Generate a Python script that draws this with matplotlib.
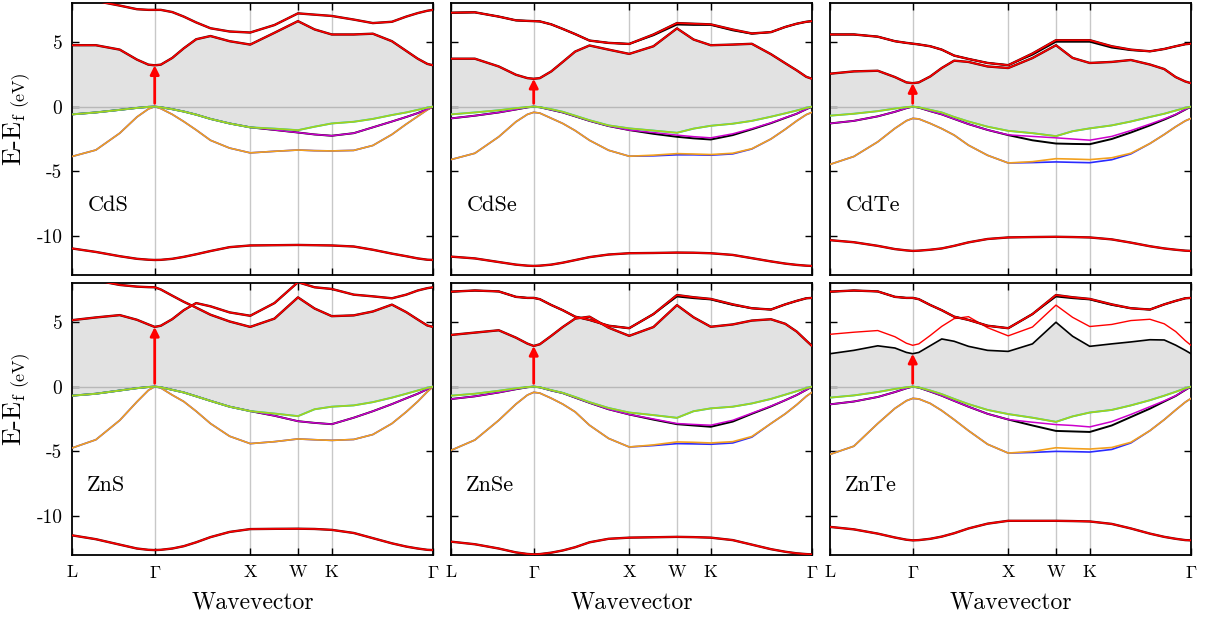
import numpy as np
import matplotlib
matplotlib.use('Agg')
import matplotlib.pyplot as plt

plt.rcParams['font.family'] = 'serif'
plt.rcParams['font.serif'] = ['cmr10']
plt.rcParams['mathtext.fontset'] = 'cm'
plt.rcParams['axes.unicode_minus'] = False
plt.rcParams['axes.formatter.use_mathtext'] = True

# k-path distances along L-G-X-W-K-G (2pi/a units)
K_PATH = [0.00, 0.25, 0.50, 0.68, 0.80, 0.866, 0.93, 1.05, 1.17, 1.30, 1.45, 1.65,
          1.866, 2.12, 2.366, 2.54, 2.72, 2.95, 3.15, 3.35, 3.50, 3.62, 3.72, 3.78]
K_TICKS = [0.0, 0.866, 1.866, 2.366, 2.720, 3.780]
K_LABELS = ['L', r'$\Gamma$', 'X', 'W', 'K', r'$\Gamma$']
Y_TICKS = [-10, -5, 0, 5]
Y_LABELS = ['-10', '-5', '0', '5']

# ---- CdS
cds_deep = [-10.95, -11.22, -11.55, -11.75, -11.82, -11.84, -11.83, -11.75, -11.60, -11.40, -11.15, -10.85,
            -10.72, -10.70, -10.68, -10.70, -10.72, -10.80, -11.05, -11.35, -11.55, -11.72, -11.82, -11.84]
cds_so = [-3.85, -3.35, -2.05, -0.80, -0.18, 0.00, -0.15, -0.60, -1.15, -1.80, -2.60, -3.20,
          -3.57, -3.45, -3.35, -3.40, -3.42, -3.38, -3.00, -2.15, -1.35, -0.75, -0.25, 0.00]
cds_hh = [-0.60, -0.45, -0.25, -0.10, -0.02, 0.00, -0.05, -0.20, -0.38, -0.62, -0.95, -1.30,
          -1.60, -1.80, -2.00, -2.15, -2.25, -2.05, -1.60, -1.15, -0.80, -0.50, -0.20, 0.00]
cds_lh = [-0.60, -0.45, -0.25, -0.10, -0.02, 0.00, -0.05, -0.20, -0.38, -0.62, -0.95, -1.30,
          -1.60, -1.70, -1.82, -1.55, -1.30, -1.17, -0.95, -0.65, -0.45, -0.25, -0.08, 0.00]
cds_c1 = [4.74, 4.74, 4.40, 3.63, 3.24, 3.19, 3.24, 3.76, 4.50, 5.20, 5.45, 5.05,
          4.79, 5.70, 6.60, 5.96, 5.57, 5.57, 5.63, 5.05, 4.30, 3.70, 3.30, 3.19]
cds_c2 = [8.40, 8.15, 7.80, 7.52, 7.47, 7.47, 7.47, 7.30, 6.95, 6.50, 6.05, 5.80,
          5.72, 6.30, 7.20, 7.10, 7.00, 6.72, 6.45, 6.55, 6.95, 7.22, 7.40, 7.47]

# ---- CdSe
cdse_deep = [-11.58, -11.72, -12.00, -12.20, -12.28, -12.30, -12.28, -12.20, -12.05, -11.85, -11.62, -11.42,
             -11.32, -11.30, -11.27, -11.28, -11.32, -11.45, -11.70, -11.95, -12.12, -12.22, -12.28, -12.30]
cdse_so = [-4.09, -3.60, -2.33, -1.17, -0.60, -0.44, -0.50, -0.90, -1.30, -1.85, -2.60, -3.37,
           -3.83, -3.75, -3.63, -3.66, -3.70, -3.60, -3.25, -2.50, -1.75, -1.10, -0.62, -0.44]
cdse_so2 = [-4.09, -3.60, -2.33, -1.17, -0.60, -0.44, -0.50, -0.90, -1.30, -1.85, -2.60, -3.37,
            -3.83, -3.80, -3.72, -3.72, -3.75, -3.65, -3.27, -2.50, -1.75, -1.10, -0.62, -0.44]
cdse_hh = [-0.91, -0.70, -0.45, -0.22, -0.06, 0.00, -0.05, -0.25, -0.45, -0.75, -1.10, -1.50,
           -1.81, -2.00, -2.20, -2.32, -2.41, -2.10, -1.70, -1.25, -0.85, -0.55, -0.20, 0.00]
cdse_hh2 = [-0.91, -0.70, -0.45, -0.22, -0.06, 0.00, -0.05, -0.25, -0.45, -0.75, -1.10, -1.50,
            -1.81, -2.10, -2.33, -2.45, -2.54, -2.20, -1.75, -1.28, -0.87, -0.55, -0.20, 0.00]
cdse_lh = [-0.60, -0.45, -0.28, -0.12, -0.03, 0.00, -0.04, -0.20, -0.40, -0.70, -1.05, -1.45,
           -1.68, -1.85, -2.02, -1.70, -1.48, -1.32, -1.10, -0.78, -0.52, -0.30, -0.10, 0.00]
cdse_c1 = [3.70, 3.70, 3.10, 2.46, 2.20, 2.15, 2.20, 2.72, 3.45, 4.25, 4.72, 4.40,
           4.07, 4.66, 6.04, 5.18, 4.74, 4.79, 4.85, 4.05, 3.35, 2.80, 2.30, 2.15]
cdse_c2 = [7.25, 7.28, 6.95, 6.66, 6.62, 6.60, 6.58, 6.35, 6.00, 5.60, 5.10, 4.92,
           4.84, 5.57, 6.45, 6.40, 6.35, 5.95, 5.65, 5.75, 6.15, 6.40, 6.55, 6.60]
cdse_c2b = [7.25, 7.28, 6.95, 6.66, 6.62, 6.60, 6.58, 6.35, 6.00, 5.60, 5.10, 4.92,
            4.84, 5.50, 6.33, 6.30, 6.30, 5.88, 5.62, 5.75, 6.15, 6.40, 6.55, 6.60]

# ---- CdTe
cdte_deep = [-10.31, -10.47, -10.75, -11.00, -11.10, -11.14, -11.12, -11.05, -10.95, -10.75, -10.48, -10.22,
             -10.10, -10.07, -10.05, -10.07, -10.10, -10.25, -10.50, -10.78, -10.95, -11.05, -11.12, -11.14]
cdte_so = [-4.46, -3.85, -2.72, -1.68, -1.09, -0.91, -0.95, -1.30, -1.70, -2.20, -2.98, -3.76,
           -4.35, -4.25, -4.02, -4.05, -4.09, -3.95, -3.60, -2.85, -2.15, -1.55, -1.10, -0.91]
cdte_so2 = [-4.46, -3.85, -2.72, -1.68, -1.09, -0.91, -0.95, -1.30, -1.70, -2.20, -2.98, -3.76,
            -4.35, -4.32, -4.27, -4.30, -4.33, -4.10, -3.65, -2.85, -2.15, -1.55, -1.10, -0.91]
cdte_hh = [-1.30, -1.10, -0.75, -0.40, -0.12, 0.00, -0.08, -0.35, -0.60, -0.95, -1.35, -1.80,
           -2.18, -2.30, -2.41, -2.50, -2.59, -2.30, -1.85, -1.35, -0.95, -0.60, -0.22, 0.00]
cdte_hh2 = [-1.30, -1.10, -0.75, -0.40, -0.12, 0.00, -0.08, -0.35, -0.60, -0.95, -1.35, -1.80,
            -2.20, -2.60, -2.85, -2.88, -2.90, -2.50, -2.00, -1.45, -1.00, -0.62, -0.23, 0.00]
cdte_lh = [-0.70, -0.55, -0.35, -0.15, -0.04, 0.00, -0.05, -0.25, -0.45, -0.80, -1.15, -1.55,
           -1.87, -2.05, -2.28, -1.90, -1.68, -1.45, -1.15, -0.80, -0.55, -0.30, -0.10, 0.00]
cdte_c1 = [2.54, 2.72, 2.77, 2.28, 1.87, 1.81, 1.87, 2.33, 2.98, 3.55, 3.45, 3.10,
           2.98, 3.75, 4.74, 3.76, 3.37, 3.45, 3.60, 3.25, 2.90, 2.28, 1.94, 1.81]
cdte_c2 = [5.57, 5.57, 5.40, 5.05, 4.92, 4.86, 4.80, 4.66, 4.40, 3.94, 3.68, 3.37,
           3.20, 4.10, 5.13, 5.13, 5.13, 4.66, 4.40, 4.27, 4.45, 4.66, 4.82, 4.86]
cdte_c2b = [5.57, 5.57, 5.40, 5.05, 4.92, 4.86, 4.80, 4.66, 4.40, 3.94, 3.68, 3.37,
            3.20, 4.00, 5.00, 5.00, 5.00, 4.55, 4.35, 4.27, 4.45, 4.66, 4.82, 4.86]

# ---- ZnS
zns_deep = [-11.48, -11.78, -12.20, -12.50, -12.60, -12.62, -12.60, -12.50, -12.32, -12.02, -11.62, -11.22,
            -11.00, -10.98, -10.97, -10.99, -11.06, -11.30, -11.70, -12.10, -12.35, -12.50, -12.60, -12.62]
zns_so = [-4.74, -4.10, -2.60, -1.17, -0.28, 0.00, -0.10, -0.65, -1.15, -1.90, -2.85, -3.83,
          -4.40, -4.25, -4.04, -4.10, -4.15, -4.08, -3.70, -2.85, -1.95, -1.15, -0.40, 0.00]
zns_hh = [-0.70, -0.55, -0.30, -0.12, -0.03, 0.00, -0.05, -0.25, -0.45, -0.75, -1.10, -1.55,
          -1.89, -2.25, -2.67, -2.80, -2.90, -2.40, -1.90, -1.35, -0.90, -0.55, -0.20, 0.00]
zns_lh = [-0.70, -0.55, -0.30, -0.12, -0.03, 0.00, -0.05, -0.25, -0.45, -0.75, -1.10, -1.55,
          -1.89, -2.08, -2.28, -1.75, -1.55, -1.45, -1.20, -0.85, -0.55, -0.30, -0.10, 0.00]
zns_c1 = [5.13, 5.34, 5.52, 5.16, 4.80, 4.61, 4.70, 5.21, 5.90, 6.45, 6.20, 5.73,
          5.47, 6.45, 8.06, 7.67, 7.54, 7.10, 6.97, 6.82, 7.10, 7.42, 7.60, 7.67]
zns_c2 = [8.60, 8.20, 7.85, 7.72, 7.68, 7.67, 7.50, 7.02, 6.55, 6.10, 5.55, 5.03,
          4.61, 5.25, 6.89, 6.03, 5.44, 5.50, 5.80, 6.33, 5.75, 5.18, 4.72, 4.61]

# ---- ZnSe
znse_deep = [-11.97, -12.17, -12.50, -12.80, -12.92, -12.95, -12.93, -12.82, -12.65, -12.40, -12.02, -11.75,
             -11.66, -11.63, -11.60, -11.62, -11.66, -11.85, -12.20, -12.55, -12.75, -12.87, -12.93, -12.95]
znse_so = [-4.92, -4.12, -2.60, -1.35, -0.65, -0.44, -0.50, -0.90, -1.35, -1.95, -2.98, -4.00,
           -4.66, -4.50, -4.27, -4.30, -4.35, -4.25, -3.85, -2.85, -2.10, -1.40, -0.75, -0.44]
znse_so2 = [-4.92, -4.12, -2.60, -1.35, -0.65, -0.44, -0.50, -0.90, -1.35, -1.95, -2.98, -4.00,
            -4.66, -4.55, -4.40, -4.42, -4.45, -4.35, -3.90, -2.85, -2.10, -1.40, -0.75, -0.44]
znse_hh = [-0.96, -0.75, -0.45, -0.20, -0.05, 0.00, -0.06, -0.30, -0.50, -0.85, -1.25, -1.75,
           -2.15, -2.50, -2.85, -2.92, -2.98, -2.60, -2.05, -1.50, -1.05, -0.65, -0.25, 0.00]
znse_hh2 = [-0.96, -0.75, -0.45, -0.20, -0.05, 0.00, -0.06, -0.30, -0.50, -0.85, -1.25, -1.75,
            -2.15, -2.55, -2.90, -3.00, -3.10, -2.70, -2.10, -1.53, -1.05, -0.65, -0.25, 0.00]
znse_lh = [-0.70, -0.55, -0.32, -0.13, -0.03, 0.00, -0.05, -0.27, -0.48, -0.80, -1.20, -1.65,
           -2.00, -2.20, -2.41, -1.90, -1.68, -1.55, -1.30, -0.95, -0.62, -0.35, -0.12, 0.00]
znse_c1 = [3.99, 4.17, 4.35, 3.78, 3.32, 3.14, 3.27, 3.92, 4.60, 5.25, 5.40, 4.55,
           3.92, 4.60, 6.29, 5.35, 4.62, 4.80, 5.10, 5.20, 4.85, 4.25, 3.55, 3.14]
znse_c2 = [7.33, 7.42, 7.35, 6.93, 6.85, 6.85, 6.75, 6.30, 5.90, 5.40, 5.15, 4.70,
           4.51, 5.60, 7.07, 6.90, 6.77, 6.35, 6.05, 5.95, 6.35, 6.62, 6.82, 6.85]
znse_c2b = [7.33, 7.42, 7.35, 6.93, 6.85, 6.85, 6.75, 6.30, 5.90, 5.40, 5.15, 4.70,
            4.51, 5.60, 6.95, 6.82, 6.72, 6.30, 6.05, 5.95, 6.35, 6.62, 6.82, 6.85]

# ---- ZnTe
znte_deep = [-10.83, -11.02, -11.35, -11.65, -11.82, -11.87, -11.85, -11.75, -11.58, -11.32, -10.95, -10.58,
             -10.36, -10.36, -10.36, -10.38, -10.41, -10.60, -10.95, -11.35, -11.60, -11.75, -11.85, -11.87]
znte_so = [-5.23, -4.60, -2.85, -1.68, -1.09, -0.91, -0.95, -1.30, -1.85, -2.55, -3.40, -4.45,
           -5.13, -5.00, -4.72, -4.78, -4.82, -4.70, -4.30, -3.40, -2.55, -1.80, -1.20, -0.91]
znte_so2 = [-5.23, -4.60, -2.85, -1.68, -1.09, -0.91, -0.95, -1.30, -1.85, -2.55, -3.40, -4.45,
            -5.13, -5.08, -5.00, -5.02, -5.05, -4.85, -4.35, -3.40, -2.55, -1.80, -1.20, -0.91]
znte_hh = [-1.37, -1.15, -0.80, -0.42, -0.13, 0.00, -0.08, -0.38, -0.70, -1.10, -1.55, -2.10,
           -2.54, -2.75, -2.93, -3.00, -3.11, -2.70, -2.15, -1.55, -1.10, -0.70, -0.25, 0.00]
znte_hh2 = [-1.37, -1.15, -0.80, -0.42, -0.13, 0.00, -0.08, -0.38, -0.70, -1.10, -1.55, -2.10,
            -2.54, -3.00, -3.42, -3.46, -3.50, -3.00, -2.35, -1.70, -1.15, -0.72, -0.26, 0.00]
znte_lh = [-0.85, -0.68, -0.42, -0.18, -0.05, 0.00, -0.06, -0.30, -0.58, -0.95, -1.35, -1.80,
           -2.12, -2.40, -2.72, -2.30, -2.00, -1.80, -1.45, -1.05, -0.70, -0.40, -0.13, 0.00]
znte_c1 = [2.54, 2.80, 3.15, 2.98, 2.64, 2.54, 2.64, 3.16, 3.68, 3.50, 3.11, 2.80,
           2.72, 3.30, 4.97, 3.89, 3.11, 3.30, 3.45, 3.62, 3.60, 3.20, 2.80, 2.54]
znte_c2 = [4.04, 4.20, 4.33, 3.85, 3.35, 3.19, 3.30, 3.95, 4.65, 5.25, 5.40, 4.55,
           3.92, 4.60, 6.29, 5.35, 4.64, 4.80, 5.10, 5.20, 4.85, 4.25, 3.55, 3.19]
znte_c3 = [7.33, 7.42, 7.35, 6.93, 6.85, 6.85, 6.75, 6.30, 5.90, 5.40, 5.15, 4.70,
           4.51, 5.60, 7.07, 6.90, 6.77, 6.35, 6.05, 5.95, 6.35, 6.62, 6.82, 6.85]
znte_c3b = [7.33, 7.42, 7.35, 6.93, 6.85, 6.85, 6.75, 6.30, 5.90, 5.40, 5.15, 4.70,
            4.51, 5.60, 6.95, 6.82, 6.72, 6.30, 6.05, 5.95, 6.35, 6.62, 6.82, 6.85]

RED, ORANGE, BLUE = '#ff0000', '#f2a01e', '#2a2aff'
MAGENTA, GREEN = '#cc00cc', '#a6d21a'

# (name, deep, so, so2, hh, hh2, lh, [(cb, style)])
panels = [
    ('CdS', cds_deep, cds_so, None, cds_hh, None, cds_lh,
     [(cds_c1, 'dark'), (cds_c2, 'dark')]),
    ('CdSe', cdse_deep, cdse_so, cdse_so2, cdse_hh, cdse_hh2, cdse_lh,
     [(cdse_c1, 'dark'), (cdse_c2b, 'black'), (cdse_c2, 'dark')]),
    ('CdTe', cdte_deep, cdte_so, cdte_so2, cdte_hh, cdte_hh2, cdte_lh,
     [(cdte_c1, 'dark'), (cdte_c2b, 'black'), (cdte_c2, 'dark')]),
    ('ZnS', zns_deep, zns_so, None, zns_hh, None, zns_lh,
     [(zns_c1, 'dark'), (zns_c2, 'dark')]),
    ('ZnSe', znse_deep, znse_so, znse_so2, znse_hh, znse_hh2, znse_lh,
     [(znse_c1, 'dark'), (znse_c2b, 'black'), (znse_c2, 'dark')]),
    ('ZnTe', znte_deep, znte_so, znte_so2, znte_hh, znte_hh2, znte_lh,
     [(znte_c1, 'black'), (znte_c2, 'thin'), (znte_c3b, 'black'), (znte_c3, 'dark')]),
]

W_FIG, H_FIG = 1211, 620
col_left = [72, 451, 830]
row_top = [3, 283]
ax_w, ax_h = 361, 272

fig = plt.figure(figsize=(W_FIG / 100, H_FIG / 100), dpi=100)
k = np.array(K_PATH)

for i, (name, deep, so, so2, hh, hh2, lh, cbs) in enumerate(panels):
    r, c = divmod(i, 3)
    ax = fig.add_axes([col_left[c] / W_FIG, 1 - (row_top[r] + ax_h) / H_FIG,
                       ax_w / W_FIG, ax_h / H_FIG])

    for kx in K_TICKS[1:-1]:
        ax.axvline(kx, color='#c8c8c8', lw=1.0, zorder=1)

    cb_min = np.min(np.vstack([np.array(b) for b, s in cbs]), axis=0)
    vb_top = np.array(lh)
    ax.fill_between(k, vb_top, cb_min, color='#e2e2e2', lw=0, zorder=1.5)
    ax.axhline(0, color='#b8b8b8', lw=1.0, zorder=1.8)

    # deep s band
    ax.plot(k, deep, color='#600000', lw=1.7, zorder=3)
    ax.plot(k, deep, color=RED, lw=1.1, zorder=3.1)
    # valence p bands
    ax.plot(k, so2 if so2 is not None else so, color=BLUE, lw=1.2, zorder=3)
    ax.plot(k, so, color=ORANGE, lw=1.2, zorder=3.1)
    ax.plot(k, hh2 if hh2 is not None else hh, color='black', lw=1.4, zorder=3)
    ax.plot(k, hh, color=MAGENTA, lw=1.1, zorder=3.1)
    ax.plot(k, lh, color='#20c8c8', lw=1.4, zorder=3.2)
    ax.plot(k, lh, color=GREEN, lw=1.2, zorder=3.3)
    # conduction bands
    for band, style in cbs:
        if style == 'black':
            ax.plot(k, band, color='black', lw=1.2, zorder=3.4)
        elif style == 'thin':
            ax.plot(k, band, color=RED, lw=1.0, zorder=3.5)
        else:
            ax.plot(k, band, color='#500000', lw=1.7, zorder=3.5)
            ax.plot(k, band, color=RED, lw=1.1, zorder=3.6)

    # band gap arrow at Gamma
    g = K_PATH.index(0.866)
    ax.annotate('', xy=(0.866, cb_min[g]), xytext=(0.866, 0.25),
                arrowprops=dict(arrowstyle='-|>', color=RED, lw=2.0,
                                mutation_scale=13, shrinkA=0, shrinkB=0),
                zorder=5)

    ax.text(0.16, -7.6, name, fontsize=16, ha='left', va='center')

    ax.set_xlim(0, 3.78)
    ax.set_ylim(-13, 8)
    ax.set_xticks(K_TICKS)
    ax.set_xticklabels(K_LABELS)
    ax.set_yticks(Y_TICKS)
    ax.set_yticklabels(Y_LABELS)
    ax.tick_params(direction='in', top=True, right=True, length=5, width=1.0,
                   labelsize=14, pad=7, labelbottom=(r == 1), labelleft=(c == 0))
    ax.tick_params(axis='x', labelsize=13)
    for sp in ax.spines.values():
        sp.set_linewidth(1.3)

    if r == 1:
        ax.set_xlabel('Wavevector', fontsize=17, labelpad=8)
    if c == 0:
        ax.set_ylabel(r'E-E$_\mathrm{f}$', fontsize=19, labelpad=6)
        ax.annotate('(eV)', xy=(1, 1), xycoords=ax.yaxis.label,
                    xytext=(0, 4), textcoords='offset points',
                    rotation=90, ha='right', va='bottom', fontsize=13)

plt.savefig('out.png', dpi=100)
